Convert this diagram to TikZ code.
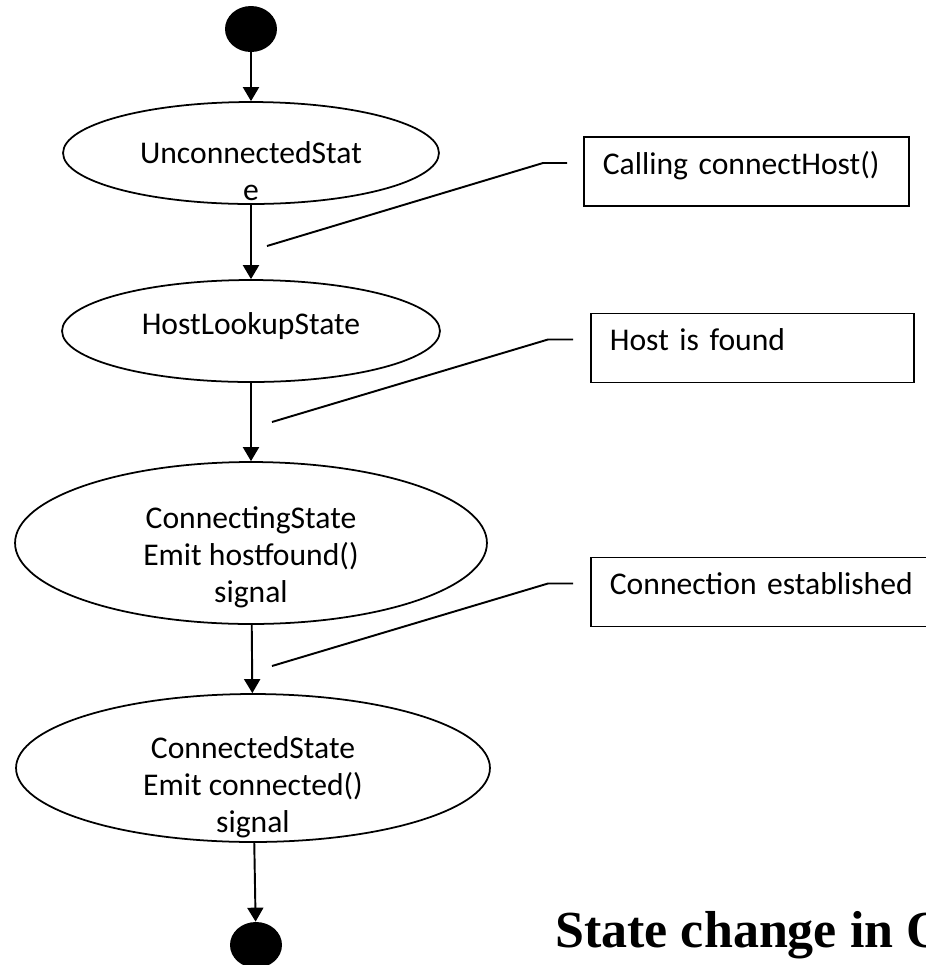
\documentclass[tikz,border=0pt]{standalone}
\usepackage{fontspec}
\setmainfont{Carlito}
\newfontfamily\titlefont{Liberation Serif}
\usetikzlibrary{shapes.geometric, arrows.meta, positioning, calc}

\tikzset{
  state/.style={draw, ellipse, line width=1pt, inner sep=0pt},
  statetext/.style={align=center, inner sep=0pt, font=\fontsize{18}{21}\selectfont},
  pseudo/.style={fill=black, ellipse, inner sep=0pt, minimum width=1.04cm, minimum height=0.92cm},
  notebox/.style={draw, rectangle, line width=1pt, anchor=west, minimum height=1.38cm,
    inner xsep=0.38cm, align=left, text height=0.75em, text depth=0.43em,
    font=\fontsize{18}{21}\selectfont},
  flow/.style={-{Triangle[width=0.32cm, length=0.28cm]}, line width=1.1pt},
  leader/.style={line width=1.1pt}
}

\begin{document}
\begin{tikzpicture}[x=0.02cm, y=-0.02cm]
    \useasboundingbox (0,0) rectangle (926,965);
    \clip (0,0) rectangle (926,965);

    % Start and end points
    \node[pseudo] (start) at (251,29) {};
    \node[pseudo] (stop) at (256,945) {};

    % States
    \node[state, minimum width=7.52cm, minimum height=2.04cm] (uncon) at (251,153) {};
    \node[state, minimum width=7.56cm, minimum height=2.04cm] (lookup) at (251,331) {};
    \node[state, minimum width=9.44cm, minimum height=3.24cm] (connecting) at (251,543) {};
    \node[state, minimum width=9.48cm, minimum height=2.96cm] (connected) at (253,768) {};

    \node[statetext] (uncontxt) at ($(uncon.center)+(0,18.5)$) {UnconnectedStat\\e};
    \node[statetext] (lookuptxt) at ($(lookup.center)+(0,-5)$) {HostLookupState};
    \node[statetext] (connectingtxt) at ($(connecting.center)+(0,14)$) {ConnectingState\\Emit hostfound()\\signal};
    \node[statetext] (connectedtxt) at ($(connected.center)+(0,19)$) {ConnectedState\\Emit connected()\\signal};

    % Transitions
    \draw[flow] (start) -- (uncon);
    \draw[flow] (uncon) -- (lookup);
    \draw[flow] (lookup) -- (connecting);
    \draw[flow] (connecting) -- (connected);
    \draw[flow] (connected) -- (stop);

    % Notes on the transitions
    \node[notebox, minimum width=6.5cm, text width=5.74cm] (call) at (583,171.5) {Calling connectHost()};
    \node[notebox, minimum width=6.46cm, text width=5.7cm] (found) at (590,348) {Host is found};
    \node[notebox, minimum width=7.2cm, text width=6.44cm] (established) at (590,592) {Connection established};

    \coordinate (tip1) at (267,246);
    \coordinate (tip2) at (272,422);
    \coordinate (tip3) at (272,666);
    \draw[leader] (tip1) -- ($(call.west)+(-40,-8.5)$) -- ($(call.west)+(-16,-8.5)$);
    \draw[leader] (tip2) -- ($(found.west)+(-42,-8.5)$) -- ($(found.west)+(-17,-8.5)$);
    \draw[leader] (tip3) -- ($(established.west)+(-42,-8.5)$) -- ($(established.west)+(-17,-8.5)$);

    % Caption
    \node[anchor=base west, inner sep=0pt, font=\titlefont\bfseries\fontsize{29.6}{34}\selectfont] (caption) at (555,947) {State change in Q};
\end{tikzpicture}
\end{document}
